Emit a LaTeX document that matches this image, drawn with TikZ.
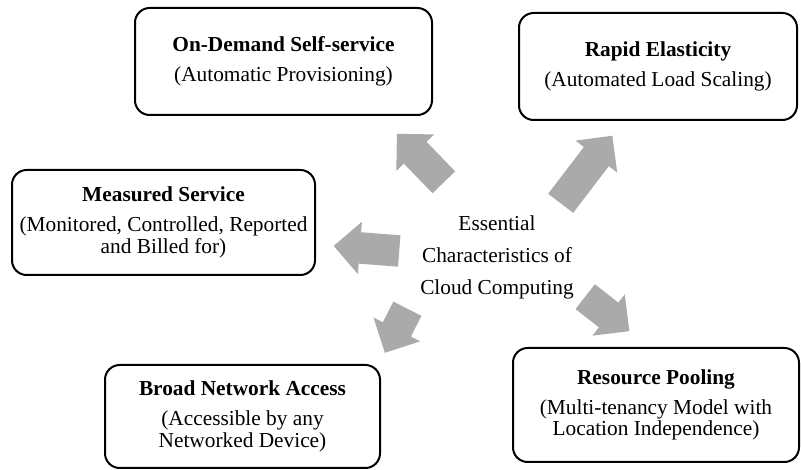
\documentclass[tikz,border=0pt]{standalone}
\usepackage{fontspec}
\setmainfont{Liberation Serif}
\usetikzlibrary{shapes.arrows}
\definecolor{arrowgray}{RGB}{170,170,170}

\begin{document}
\begin{tikzpicture}[x=0.75pt, y=-0.75pt,
    box/.style={rectangle, draw=black, line width=1.5pt, rounded corners=11pt, align=center, inner sep=0pt, font=\fontsize{16}{16.3}\selectfont},
    bigarr/.style={single arrow, fill=arrowgray, draw=none, inner xsep=0pt, inner ysep=11.6pt, single arrow head extend=7.9pt, anchor=tail}
]
\useasboundingbox (0,0) rectangle (801,470);

\node[box, minimum width=222.75pt, minimum height=80.25pt] (ondemand) at (283.5,61.5) {\textbf{On-Demand Self-service}\\[6pt](Automatic Provisioning)};
\node[box, minimum width=208.5pt, minimum height=80.25pt] (rapid) at (658,66.5) {\textbf{Rapid Elasticity}\\[6pt](Automated Load Scaling)};
\node[box, minimum width=227.25pt, minimum height=78.75pt] (measured) at (163.5,222.5) {\textbf{Measured Service}\\[6pt](Monitored, Controlled, Reported\\and Billed for)};
\node[box, minimum width=206.25pt, minimum height=77.25pt] (broad) at (242.5,416.5) {\textbf{Broad Network Access}\\[6pt](Accessible by any\\Networked Device)};
\node[box, minimum width=214.5pt, minimum height=85.5pt] (pooling) at (656,405) {\textbf{Resource Pooling}\\[6pt](Multi-tenancy Model with\\Location Independence)};

\node[align=center, font=\fontsize{16}{24}\selectfont] (core) at (497,257) {Essential\\Characteristics of\\Cloud Computing};

\node[bigarr, minimum height=50.6pt, rotate=134] (toondemand) at (444,182.5) {};
\node[bigarr, minimum height=63.8pt, rotate=52.6] (torapid) at (560.5,203.5) {};
\node[bigarr, minimum height=49.3pt, rotate=175.6] (tomeasured) at (399.5,251) {};
\node[bigarr, minimum height=37.1pt, rotate=243] (tobroad) at (407.5,308.5) {};
\node[bigarr, minimum height=42pt, rotate=-38] (topooling) at (585,296.5) {};
\end{tikzpicture}
\end{document}
